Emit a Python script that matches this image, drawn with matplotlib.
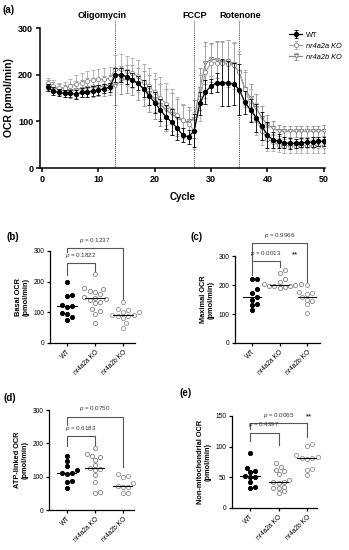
import numpy as np
import matplotlib
matplotlib.use("Agg")
import matplotlib.pyplot as plt

plt.rcParams['font.family'] = ['Liberation Sans', 'DejaVu Sans']
plt.rcParams['mathtext.fontset'] = 'custom'
plt.rcParams['mathtext.it'] = 'Liberation Sans:italic'

# ---- seahorse trace (mean, SD per cycle) ----
cycles = np.arange(1, 51)
wt_ocr = [173, 165, 162, 160, 160, 158, 162, 163, 165, 167,
          170, 173, 200, 199, 196, 189, 182, 170, 155, 140,
          124, 110, 98, 85, 70, 67, 80, 139, 163, 176,
          183, 183, 182, 180, 168, 141, 124, 108, 90, 71,
          60, 57, 54, 53, 53, 54, 55, 56, 57, 57]
wt_sd = [8, 8, 8, 8, 8, 10, 10, 10, 10, 10,
         10, 10, 15, 15, 15, 15, 15, 18, 20, 22,
         24, 26, 28, 25, 15, 15, 35, 25, 25, 15,
         20, 50, 48, 45, 55, 25, 25, 30, 30, 28,
         18, 15, 12, 12, 10, 10, 10, 10, 10, 10]
a_ocr = [183, 176, 171, 172, 175, 180, 183, 186, 188, 190,
         190, 192, 212, 212, 208, 203, 197, 185, 175, 162,
         150, 138, 125, 113, 102, 95, 80, 150, 206, 225,
         226, 225, 224, 220, 205, 170, 135, 105, 80, 62,
         55, 50, 48, 48, 48, 48, 48, 48, 48, 47]
a_sd = [10, 12, 12, 12, 15, 20, 20, 22, 22, 22,
        25, 25, 30, 32, 32, 32, 35, 38, 40, 42,
        45, 45, 45, 40, 35, 30, 40, 50, 55, 40,
        45, 45, 50, 50, 45, 40, 35, 35, 30, 25,
        18, 15, 15, 15, 15, 15, 15, 15, 15, 15]
b_ocr = [178, 172, 168, 165, 166, 168, 170, 172, 173, 174,
         176, 178, 175, 188, 190, 188, 180, 170, 160, 148,
         136, 125, 115, 108, 100, 100, 105, 170, 225, 233,
         232, 228, 230, 222, 205, 170, 150, 128, 108, 93,
         85, 80, 79, 79, 79, 79, 79, 79, 79, 80]
b_sd = [10, 12, 12, 12, 15, 18, 18, 20, 20, 20,
        22, 22, 40, 30, 30, 32, 35, 38, 40, 42,
        45, 45, 45, 40, 35, 30, 40, 45, 45, 35,
        40, 45, 45, 45, 40, 35, 30, 30, 25, 20,
        15, 12, 12, 12, 12, 12, 12, 12, 12, 12]
injections = [("Oligomycin", 13), ("FCCP", 27), ("Rotenone", 35)]

# ---- per-fish parameters ----
groups = ["WT", "nr4a2a KO", "nr4a2b KO"]
basal_wt = [200, 152, 155, 120, 123, 118, 93, 97, 86, 76]
basal_a = [225, 178, 175, 170, 165, 160, 150, 148, 145, 140, 135, 130, 110, 105, 95, 65]
basal_b = [135, 110, 108, 102, 100, 92, 90, 88, 87, 80, 65, 50]
max_wt = [220, 220, 185, 172, 160, 150, 135, 132, 115]
max_a = [252, 240, 222, 212, 205, 203, 200, 198, 196, 195, 193, 190]
max_b = [200, 175, 172, 170, 160, 150, 145, 133, 105]
atp_wt = [163, 148, 133, 120, 110, 110, 108, 88, 85, 66]
atp_a = [186, 167, 163, 160, 150, 135, 125, 122, 120, 105, 85, 55, 50]
atp_b = [108, 102, 100, 80, 72, 70, 68, 52, 50]
nonmito_wt = [90, 65, 61, 58, 52, 51, 50, 42, 34, 33]
nonmito_a = [73, 67, 62, 60, 55, 45, 43, 42, 40, 35, 33, 32, 27, 24]
nonmito_b = [104, 101, 87, 83, 82, 81, 80, 63, 62, 53]

basal_p = ["0.1822", "0.1237"]
max_p = ["0.0013", "0.9966"]
atp_p = ["0.6183", "0.0750"]
nonmito_p = ["0.4397", "0.0065"]

fig = plt.figure(figsize=(3.49, 5.5), dpi=100)

# ---------------- (a) ----------------
ax = fig.add_axes([0.115, 0.6945, 0.816, 0.2545])
ax.errorbar(cycles, b_ocr, yerr=b_sd, color='#8c8c8c', marker='v', ms=3,
            mfc='white', mec='#7a7a7a', mew=0.6, lw=0.9, elinewidth=0.6,
            capsize=1.5, capthick=0.6, label='nr4a2b KO', zorder=2)
ax.errorbar(cycles, a_ocr, yerr=a_sd, color='#a8a8a8', marker='o', ms=3,
            mfc='white', mec='#8a8a8a', mew=0.6, lw=0.9, elinewidth=0.6,
            capsize=1.5, capthick=0.6, label='nr4a2a KO', zorder=3)
ax.errorbar(cycles, wt_ocr, yerr=wt_sd, color='black', marker='o', ms=2.8,
            lw=0.9, elinewidth=0.6, capsize=1.5, capthick=0.6, label='WT', zorder=4)
for name, c in injections:
    ax.plot([c, c], [0, 318], ls=(0, (1, 1)), color='#444444', lw=0.7, clip_on=False)
ax.text(10.7, 326, "Oligomycin", ha='center', va='center', fontsize=6.5, fontweight='bold')
ax.text(27, 326, "FCCP", ha='center', va='center', fontsize=6.5, fontweight='bold')
ax.text(35.2, 326, "Rotenone", ha='center', va='center', fontsize=6.5, fontweight='bold')
ax.set_xlim(-0.35, 50.2)
ax.set_ylim(0, 300)
ax.set_xticks([0, 10, 20, 30, 40, 50])
ax.set_yticks([0, 100, 200, 300])
for s in ['top', 'right']:
    ax.spines[s].set_visible(False)
for s in ['left', 'bottom']:
    ax.spines[s].set_linewidth(1.1)
ax.tick_params(width=1.1, length=3, labelsize=6.5, pad=2)
for t in ax.get_xticklabels() + ax.get_yticklabels():
    t.set_fontweight('bold')
ax.set_xlabel("Cycle", fontsize=7, fontweight='bold', labelpad=6)
ax.set_ylabel("OCR (pmol/min)", fontsize=7.5, fontweight='bold', labelpad=3)
h, l = ax.get_legend_handles_labels()
leg = fig.legend(h[::-1], l[::-1], loc='upper left', bbox_to_anchor=(0.81, 0.955),
                 frameon=False, fontsize=5.3, handlelength=1.7, labelspacing=0.55,
                 handletextpad=0.6)
for t in leg.get_texts()[1:]:
    t.set_style('italic')
fig.text(0.008, 0.982, "(a)", fontsize=7, fontweight='bold', va='center')


def swarm_x(ax, xpos, vals, diam=4.8):
    # spread overlapping points sideways, working in pixel space
    tr = ax.transData
    pts = tr.transform(np.column_stack([np.full(len(vals), xpos), vals]))
    x0 = pts[0, 0]
    ys = pts[:, 1]
    xs = np.full(len(vals), x0)
    placed = []
    for i in np.argsort(ys):
        cands = [0.0]
        for k in range(1, 12):
            cands += [k * diam * 0.55, -k * diam * 0.55]
        for dx in cands:
            ok = all((x0 + dx - px) ** 2 + (ys[i] - py) ** 2 >= diam ** 2 for px, py in placed)
            if ok:
                break
        xs[i] = x0 + dx
        placed.append((x0 + dx, ys[i]))
    inv = tr.inverted()
    return inv.transform(np.column_stack([xs, ys]))[:, 0]


def dot_panel(pos, xlim, ylim, yticks, data, ylabel, pvals, low, top, stars):
    ax = fig.add_axes(pos)
    ax.set_xlim(*xlim)
    ax.set_ylim(0, ylim)
    styles = [dict(c='black', edgecolors='black'),
              dict(c='white', edgecolors='#8a8a8a'),
              dict(c='white', edgecolors='#9a9a9a')]
    for i, vals in enumerate(data):
        xs = swarm_x(ax, i, vals)
        ax.scatter(xs, vals, s=9, linewidths=0.65, zorder=3, clip_on=False, **styles[i])
        ax.plot([i - 0.34, i + 0.34], [np.median(vals)] * 2, color='black', lw=0.8, zorder=4)
    # comparison brackets: (x_end, height, left leg, right leg)
    for (x1, hgt, l0, r0), p, st in zip([low, top], pvals, stars):
        ax.plot([0, 0, x1, x1], [l0, hgt, hgt, r0], color='#555555', lw=0.8, clip_on=False)
        ax.text(x1 / 2, hgt + ylim * 0.035, r"$\it{p}$ = " + p, ha='center', va='bottom',
                fontsize=4.5, color='#333333')
        if st:
            ax.text(x1 / 2 + 0.95, hgt + ylim * 0.035, st, ha='left', va='bottom',
                    fontsize=5.5, fontweight='bold', color='#333333')
    ax.set_xticks([0, 1, 2])
    ax.set_xticklabels(groups, rotation=45, ha='right', rotation_mode='anchor')
    ax.set_yticks(yticks)
    for s in ['top', 'right']:
        ax.spines[s].set_visible(False)
    for s in ['left', 'bottom']:
        ax.spines[s].set_linewidth(0.9)
    ax.tick_params(width=0.9, length=2.5, labelsize=4.8, pad=1.5)
    ax.set_ylabel(ylabel, fontsize=5.3, fontweight='bold', labelpad=3, linespacing=1.1)
    return ax


dot_panel([0.1433, 0.3764, 0.2436, 0.1673], (-0.607, 2.43), 300, [0, 100, 200, 300],
          [basal_wt, basal_a, basal_b], "Basal OCR\n(pmol/min)", basal_p,
          (1, 260, 222, 235), (2, 310, 297, 140), ["", ""])
fig.text(0.02, 1 - 237 / 550, "(b)", fontsize=7, fontweight='bold', va='center')

dot_panel([0.6734, 0.3764, 0.2436, 0.158], (-0.62, 2.47), 300, [0, 100, 200, 300],
          [max_wt, max_a, max_b], "Maximal OCR\n(pmol/min)", max_p,
          (1, 283, 234, 262), (2, 344, 283, 210), ["**", ""])
fig.text(0.545, 1 - 237 / 550, "(c)", fontsize=7, fontweight='bold', va='center')

dot_panel([0.1404, 0.0727, 0.2436, 0.1818], (-0.64, 2.4), 300, [0, 100, 200, 300],
          [atp_wt, atp_a, atp_b], "ATP-linked OCR\n(pmol/min)", atp_p,
          (1, 222, 192, 195), (2, 280, 255, 130), ["", ""])
fig.text(0.01, 1 - 398 / 550, "(d)", fontsize=7, fontweight='bold', va='center')

dot_panel([0.6648, 0.0764, 0.2436, 0.1673], (-0.63, 2.35), 150, [0, 50, 100, 150],
          [nonmito_wt, nonmito_a, nonmito_b], "Non-mitochondrial OCR\n(pmol/min)", nonmito_p,
          (1, 123, 110, 102), (2, 138, 129, 115), ["", "**"])
fig.text(0.515, 1 - 393 / 550, "(e)", fontsize=7, fontweight='bold', va='center')

fig.savefig("out.png", dpi=100)
